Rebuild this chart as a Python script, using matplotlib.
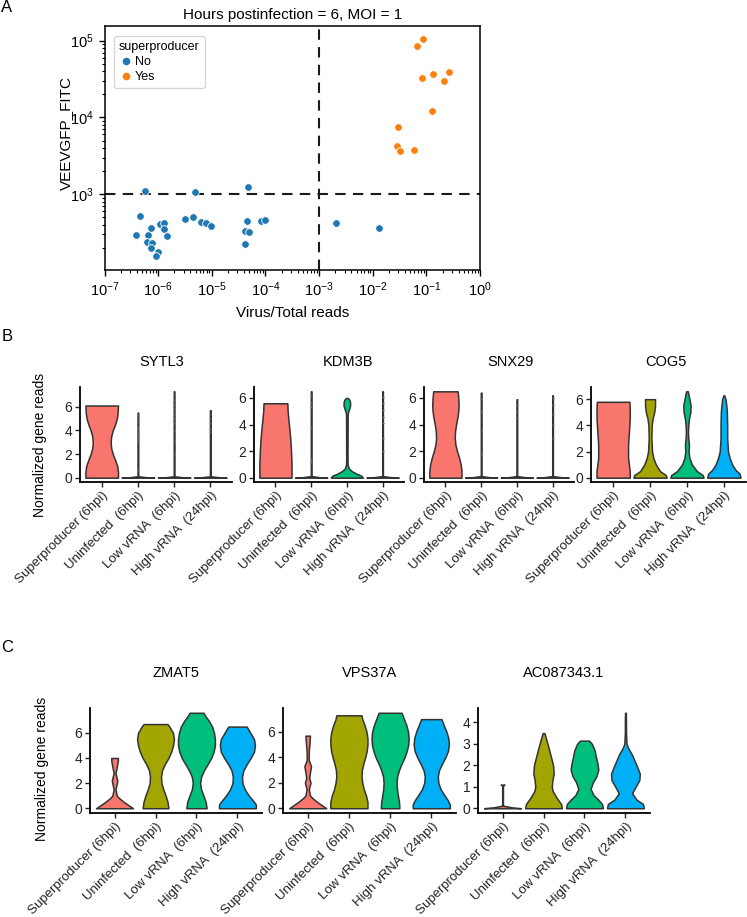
import numpy as np
import matplotlib
matplotlib.use('Agg')
import matplotlib.pyplot as plt
from matplotlib.lines import Line2D
from matplotlib.ticker import LogLocator, NullFormatter

plt.rcParams['font.family'] = ['Liberation Sans', 'DejaVu Sans']
plt.rcParams['mathtext.default'] = 'regular'

W, H = 747, 917

# ---------------- panel A data ----------------
no_x = [5.7e-7, 4.9e-6, 4.7e-5, 4.5e-7, 3.8e-7, 6.6e-7, 7.4e-7, 6.2e-7, 7.8e-7, 7.4e-7,
        9.8e-7, 9.3e-7, 1.1e-6, 1.26e-6, 1.29e-6, 1.48e-6, 3.2e-6, 4.4e-6, 6.2e-6, 7.8e-6,
        9.8e-6, 4.5e-5, 4.1e-5, 5.0e-5, 4.2e-5, 8.1e-5, 9.8e-5, 2.1e-3, 1.3e-2]
no_y = [1104, 1062, 1245, 520, 291, 291, 366, 238, 229, 200,
        176, 155, 413, 417, 355, 282, 471, 505, 435, 417,
        389, 447, 331, 324, 226, 444, 466, 422, 360]
yes_x = [0.085, 0.067, 0.083, 0.131, 0.209, 0.267, 0.126, 0.030, 0.0288, 0.0324, 0.059]
yes_y = [105000, 86100, 32800, 36300, 29600, 38500, 12000, 7600, 4190, 3650, 3800]

# ---------------- panels B/C ----------------
groups = ['Superproducer (6hpi)', 'Uninfected  (6hpi)', 'Low vRNA  (6hpi)', 'High vRNA  (24hpi)']
group_colors = ['#F8766D', '#A3A500', '#00BF7D', '#00B0F6']

# violin outlines per group: (expression levels, relative width)
sytl3 = [
    ([0, 0.5, 1, 1.5, 2, 2.5, 3, 3.5, 4, 4.5, 5, 5.5, 6.1],
     [1, 1, 0.95, 0.82, 0.68, 0.58, 0.55, 0.58, 0.68, 0.82, 0.93, 0.98, 1.0]),
    ([0, 0.04, 0.12, 5.5], [1, 0.5, 0.02, 0.02]),
    ([0, 0.04, 0.12, 7.3], [1, 0.5, 0.02, 0.02]),
    ([0, 0.04, 0.12, 5.7], [1, 0.5, 0.02, 0.02]),
]
sytl3_pts = [[], [0.6, 3.2, 3.4, 3.6, 3.9, 4.1, 4.3, 5.0, 5.3],
             [2.0, 3.1, 4.0, 4.6, 5.0, 5.4, 5.8, 6.2, 6.6, 7.0], [3.9, 4.1, 4.6, 5.0, 5.4]]

kdm3b = [
    ([0, 0.5, 1, 2, 3, 4, 4.5, 5, 5.6], [1, 1, 1, 0.97, 0.92, 0.84, 0.8, 0.76, 0.74]),
    ([0, 0.04, 0.12, 6.5], [1, 0.5, 0.02, 0.02]),
    ([0, 0.15, 0.3, 0.5, 0.7, 1.0, 1.5, 4.8, 5.1, 5.4, 5.7, 5.9, 6.0],
     [1, 0.9, 0.6, 0.3, 0.12, 0.05, 0.04, 0.05, 0.12, 0.2, 0.2, 0.14, 0.05]),
    ([0, 0.04, 0.12, 6.5], [1, 0.5, 0.02, 0.02]),
]
kdm3b_pts = [[], [1.2, 1.4, 3.8, 5.3, 5.6, 6.2], [], [2.0, 3.0, 4.1, 4.6, 5.1, 5.6, 6.1]]

snx29 = [
    ([0, 0.5, 1, 1.5, 2, 2.5, 3, 3.5, 4, 4.5, 5, 5.5, 6, 6.5],
     [1, 1, 0.95, 0.85, 0.72, 0.62, 0.58, 0.6, 0.66, 0.74, 0.8, 0.82, 0.8, 0.76]),
    ([0, 0.04, 0.12, 6.4], [1, 0.5, 0.02, 0.02]),
    ([0, 0.04, 0.12, 5.9], [1, 0.5, 0.02, 0.02]),
    ([0, 0.04, 0.12, 6.2], [1, 0.5, 0.02, 0.02]),
]
snx29_pts = [[], [1.8, 3.5, 5.0, 5.9], [4.5, 5.0, 5.5], [3.0, 4.0, 4.8, 5.5, 6.0]]

cog5 = [
    ([0, 0.5, 1, 1.5, 2.5, 3.5, 4.5, 5.3, 5.8], [1, 1, 0.95, 0.9, 0.9, 0.95, 1, 1, 0.98]),
    ([0, 0.2, 0.5, 1, 1.5, 2, 3, 4, 4.5, 5, 5.5, 6.0],
     [1, 0.95, 0.6, 0.35, 0.2, 0.12, 0.08, 0.1, 0.15, 0.25, 0.3, 0.3]),
    ([0, 0.2, 0.5, 1, 1.5, 2, 2.5, 3, 3.5, 4, 4.5, 5, 5.5, 6, 6.6],
     [1, 0.95, 0.6, 0.3, 0.15, 0.1, 0.12, 0.08, 0.06, 0.08, 0.12, 0.2, 0.22, 0.15, 0.05]),
    ([0, 0.3, 0.6, 1, 1.5, 2, 3, 4, 5, 5.5, 6, 6.3],
     [1, 0.95, 0.7, 0.5, 0.35, 0.25, 0.2, 0.2, 0.18, 0.15, 0.1, 0.02]),
]

zmat5 = [
    ([0, 0.2, 0.5, 0.8, 1.0, 1.5, 2.2, 2.8, 3.3, 3.8, 4.0],
     [1, 0.8, 0.5, 0.25, 0.12, 0.05, 0.15, 0.05, 0.12, 0.18, 0.18]),
    ([0, 0.5, 1, 1.5, 2, 2.5, 3, 3.5, 4, 4.5, 5, 5.5, 6, 6.5, 6.7],
     [0.7, 0.65, 0.55, 0.42, 0.32, 0.3, 0.35, 0.5, 0.7, 0.85, 0.95, 1.0, 0.95, 0.75, 0.65]),
    ([0, 0.5, 1, 1.5, 2, 2.5, 3, 3.5, 4, 4.5, 5, 5.5, 6, 6.5, 7, 7.4, 7.6],
     [0.55, 0.5, 0.38, 0.25, 0.2, 0.25, 0.4, 0.6, 0.8, 0.93, 1.0, 1.0, 0.95, 0.85, 0.65, 0.45, 0.38]),
    ([0, 0.3, 0.6, 1, 1.5, 2, 2.5, 3, 3.5, 4, 4.5, 5, 5.5, 6, 6.5],
     [1, 1, 0.85, 0.62, 0.4, 0.27, 0.25, 0.32, 0.5, 0.72, 0.9, 0.95, 0.9, 0.7, 0.5]),
]

vps37a = [
    ([0, 0.2, 0.5, 0.8, 1.0, 1.5, 2.0, 2.4, 2.8, 3.3, 3.8, 4.5, 5.2, 5.7],
     [1, 0.8, 0.5, 0.25, 0.12, 0.06, 0.15, 0.08, 0.12, 0.18, 0.05, 0.06, 0.1, 0.12]),
    ([0, 0.5, 1, 1.5, 2, 2.5, 3, 3.5, 4, 4.5, 5, 5.5, 6, 6.5, 7, 7.3],
     [1, 1, 0.92, 0.8, 0.72, 0.68, 0.7, 0.78, 0.88, 0.96, 1, 1, 0.95, 0.85, 0.72, 0.68]),
    ([0, 0.5, 1, 1.5, 2, 2.5, 3, 3.5, 4, 4.5, 5, 5.5, 6, 6.5, 7, 7.5],
     [0.5, 0.48, 0.42, 0.37, 0.35, 0.38, 0.48, 0.62, 0.78, 0.9, 0.98, 1, 0.97, 0.88, 0.75, 0.62]),
    ([0, 0.3, 0.6, 1, 1.5, 2, 2.5, 3, 3.5, 4, 4.5, 5, 5.5, 6, 6.5, 7],
     [1, 1, 0.9, 0.72, 0.5, 0.38, 0.35, 0.42, 0.58, 0.76, 0.9, 0.95, 0.92, 0.82, 0.68, 0.55]),
]

ac087343 = [
    ([0, 0.04, 0.12, 1.05, 1.1], [1, 0.5, 0.02, 0.02, 0.1]),
    ([0, 0.2, 0.5, 0.8, 1.0, 1.3, 1.6, 2.0, 2.4, 2.8, 3.2, 3.5],
     [1, 0.95, 0.7, 0.5, 0.45, 0.48, 0.55, 0.52, 0.4, 0.28, 0.15, 0.05]),
    ([0, 0.2, 0.4, 0.6, 0.9, 1.2, 1.5, 1.8, 2.1, 2.4, 2.7, 3.0, 3.15],
     [1, 0.95, 0.75, 0.5, 0.33, 0.45, 0.65, 0.75, 0.7, 0.62, 0.55, 0.4, 0.25]),
    ([0, 0.2, 0.4, 0.7, 1.0, 1.3, 1.6, 1.9, 2.2, 2.5, 2.8, 3.0, 3.5, 4.0, 4.45],
     [1, 0.95, 0.6, 0.36, 0.55, 0.75, 0.78, 0.65, 0.5, 0.35, 0.15, 0.06, 0.03, 0.03, 0.02]),
]

no_pts = [[], [], [], []]


def px_axes(fig, x0, x1, y0, y1):
    return fig.add_axes([x0 / W, 1 - y1 / H, (x1 - x0) / W, (y1 - y0) / H])


def violin_panel(ax, shapes, pts, yticks):
    top = max(max(y) for y, w in shapes)
    for i, (y, w) in enumerate(shapes):
        hw = np.array(w) * 0.45
        ax.fill_betweenx(y, i + 1 - hw, i + 1 + hw, facecolor=group_colors[i],
                         edgecolor='#333333', lw=1.1, zorder=2)
        if pts[i]:
            ax.scatter([i + 1] * len(pts[i]), pts[i], s=2, color='#666666', lw=0, zorder=3)
    ax.set_xlim(0.4, 4.6)
    ax.set_ylim(-0.05 * top, 1.05 * top)
    ax.set_yticks(yticks)
    ax.set_xticks([1, 2, 3, 4])
    ax.set_xticklabels(groups, rotation=45, ha='right', rotation_mode='anchor', fontsize=9.5)
    ax.tick_params(axis='y', labelsize=10, length=3.5, width=1, colors='#222222', pad=2)
    ax.tick_params(axis='x', length=3.5, width=1, colors='#222222', pad=2)
    for s in ['top', 'right']:
        ax.spines[s].set_visible(False)
    for s in ['left', 'bottom']:
        ax.spines[s].set_linewidth(1.3)
        ax.spines[s].set_color('black')


fig = plt.figure(figsize=(W / 100, H / 100), dpi=100)

# ---------------- A: scatter ----------------
ax = px_axes(fig, 104.5, 480, 26, 270)
ax.scatter(no_x, no_y, s=30, color='#1f77b4', edgecolor='white', lw=0.6, zorder=3)
ax.scatter(yes_x, yes_y, s=30, color='#ff7f0e', edgecolor='white', lw=0.6, zorder=3)
ax.axvline(1e-3, color='#1a1a1a', ls=(0, (5, 3.5)), lw=1.5, zorder=2)
ax.axhline(1e3, color='#1a1a1a', ls=(0, (5, 3.5)), lw=1.5, zorder=2)
ax.set_xscale('log')
ax.set_yscale('log')
ax.set_xlim(1e-7, 1e0)
ax.set_ylim(1.03e2, 1.55e5)
ax.xaxis.set_major_locator(LogLocator(base=10, numticks=20))
ax.xaxis.set_minor_locator(LogLocator(base=10, subs=np.arange(2, 10), numticks=20))
ax.xaxis.set_minor_formatter(NullFormatter())
ax.yaxis.set_minor_formatter(NullFormatter())
ax.tick_params(which='major', labelsize=10.5, length=4, width=1)
ax.tick_params(which='minor', length=2.5, width=0.8)
for s in ax.spines.values():
    s.set_linewidth(1.1)
ax.set_title('Hours postinfection = 6, MOI = 1', fontsize=11, pad=5)
ax.set_xlabel('Virus/Total reads', fontsize=11, labelpad=5)
ax.set_ylabel('VEEVGFP_FITC', fontsize=11, labelpad=2)
ax.yaxis.set_label_coords(-0.085, 0.56)
handles = [Line2D([], [], marker='o', ls='', color='#1f77b4', markeredgecolor='white', markersize=6.5),
           Line2D([], [], marker='o', ls='', color='#ff7f0e', markeredgecolor='white', markersize=6.5)]
leg = ax.legend(handles, ['No', 'Yes'], title='superproducer', loc='upper left',
                fontsize=9, title_fontsize=9, handletextpad=0.1, handlelength=1.2,
                borderpad=0.4, labelspacing=0.25, bbox_to_anchor=(0.008, 0.985))
leg._legend_box.align = 'left'
leg.get_frame().set_edgecolor('#cccccc')

# ---------------- B ----------------
b_pos = [(80, 232), (254, 404), (424, 574), (591, 746)]
b_data = [(sytl3, sytl3_pts), (kdm3b, kdm3b_pts), (snx29, snx29_pts), (cog5, no_pts)]
b_titles = ['SYTL3', 'KDM3B', 'SNX29', 'COG5']
b_title_x = [162, 348, 511, 666]
for (x0, x1), (shp, pts), t, tx in zip(b_pos, b_data, b_titles, b_title_x):
    a = px_axes(fig, x0, x1, 387, 482)
    violin_panel(a, shp, pts, [0, 2, 4, 6])
    fig.text(tx / W, 1 - 362 / H, t, ha='center', va='center', fontsize=10.5)
fig.text(40 / W, 1 - 445 / H, 'Normalized gene reads', rotation=90, ha='center', va='center', fontsize=10)

# ---------------- C ----------------
c_pos = [(90, 262), (283, 456), (478, 650)]
c_data = [zmat5, vps37a, ac087343]
c_titles = ['ZMAT5', 'VPS37A', 'AC087343.1']
c_ticks = [[0, 2, 4, 6], [0, 2, 4, 6], [0, 1, 2, 3, 4]]
for (x0, x1), shp, t, tk in zip(c_pos, c_data, c_titles, c_ticks):
    a = px_axes(fig, x0, x1, 708, 813)
    violin_panel(a, shp, no_pts, tk)
    fig.text((x0 + x1) / 2 / W, 1 - 673 / H, t, ha='center', va='center', fontsize=10.5)
fig.text(42 / W, 1 - 769 / H, 'Normalized gene reads', rotation=90, ha='center', va='center', fontsize=10)

# panel letters
for lab, y in [('A', 8), ('B', 337), ('C', 647)]:
    fig.text(7 / W, 1 - y / H, lab, ha='center', va='center', fontsize=12)

fig.savefig('out.png', dpi=100)
